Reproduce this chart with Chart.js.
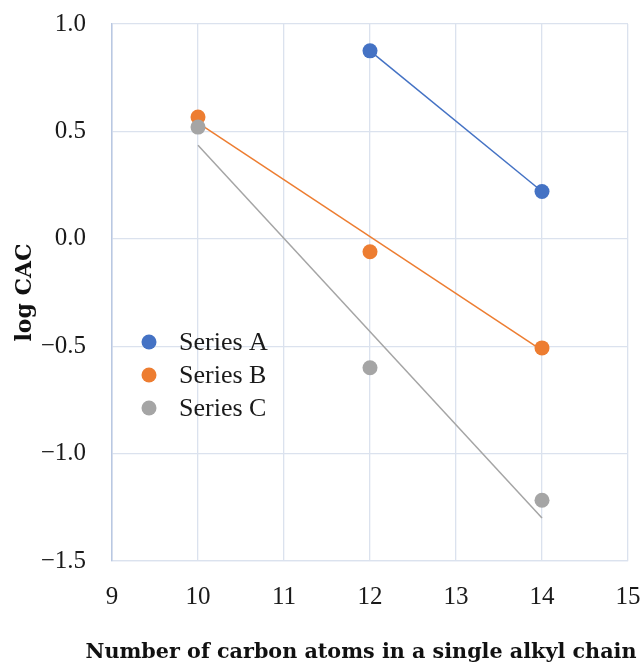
<!DOCTYPE html>
<html>
<head>
<meta charset="utf-8">
<script src="https://cdn.jsdelivr.net/npm/chart.js@4/dist/chart.umd.min.js"></script>
<style>
  html, body { margin: 0; padding: 0; background: #fff; }
  #wrap { width: 642px; height: 668px; }
</style>
</head>
<body>
<div id="wrap"><canvas id="chart" width="642" height="668"></canvas></div>
<script>
// carbon atoms per chain
var carbonA = [12, 14];
var carbonB = [10, 12, 14];
var carbonC = [10, 12, 14];

// log CAC values
var logCacA = [0.875, 0.22];
var logCacB = [0.567, -0.06, -0.508];
var logCacC = [0.52, -0.60, -1.217];

// linear trendline ends
var trendX = [10, 14];
var trendXA = [12, 14];
var trendA = [0.875, 0.22];
var trendB = [0.54, -0.52];
var trendC = [0.436, -1.30];

var seriesNames = ["Series A", "Series B", "Series C"];
var seriesColors = ["#4472C4", "#ED7D31", "#A5A5A5"];
var xTitle = "Number of carbon atoms in a single alkyl chain";

var serif = "'Liberation Serif', 'Times New Roman', serif";
var boldSerif = "'DejaVu Serif', serif";

function toPoints(xs, ys) {
  return xs.map(function (x, i) { return { x: x, y: ys[i] }; });
}

function pointSet(i, xs, ys, order) {
  return {
    label: seriesNames[i],
    data: toPoints(xs, ys),
    backgroundColor: seriesColors[i],
    borderColor: seriesColors[i],
    pointRadius: 7.5,
    pointHoverRadius: 7.5,
    borderWidth: 0,
    showLine: false,
    order: order
  };
}

function trendSet(i, xs, ys) {
  return {
    label: seriesNames[i] + " trend",
    data: toPoints(xs, ys),
    borderColor: seriesColors[i],
    borderWidth: 1.5,
    pointRadius: 0,
    showLine: true,
    fill: false,
    order: 10
  };
}

// legend inside the plot + x title (sits a bit left of centre in the original)
var extras = {
  id: "extras",
  afterDraw: function (chart) {
    var ctx = chart.ctx;
    ctx.save();
    ctx.font = "26px " + serif;
    ctx.textBaseline = "middle";
    for (var i = 0; i < seriesNames.length; i++) {
      var y = 342 + i * 33;
      ctx.beginPath();
      ctx.arc(149, y, 7.5, 0, Math.PI * 2);
      ctx.fillStyle = seriesColors[i];
      ctx.fill();
      ctx.fillStyle = "#1a1a1a";
      ctx.fillText(seriesNames[i], 179, y + 1);
    }
    ctx.font = "bold 20.7px " + boldSerif;
    ctx.textAlign = "center";
    ctx.fillStyle = "#111";
    ctx.fillText(xTitle, 361, 653);
    ctx.restore();
  }
};

function fmtY(v) {
  return Number(v).toFixed(1).replace("-", "\u2212");
}

new Chart(document.getElementById("chart"), {
  type: "scatter",
  data: {
    datasets: [
      pointSet(0, carbonA, logCacA, 0),
      pointSet(1, carbonB, logCacB, 2),
      pointSet(2, carbonC, logCacC, 1),
      trendSet(0, trendXA, trendA),
      trendSet(1, trendX, trendB),
      trendSet(2, trendX, trendC)
    ]
  },
  options: {
    responsive: false,
    animation: false,
    layout: { padding: { top: 24, right: 14, left: 0, bottom: 0 } },
    plugins: {
      legend: { display: false },
      tooltip: { enabled: false }
    },
    scales: {
      x: {
        type: "linear",
        min: 9,
        max: 15,
        ticks: {
          stepSize: 1,
          padding: 21,
          color: "#1a1a1a",
          font: { family: serif, size: 25 }
        },
        grid: { color: "#dbe2ee", lineWidth: 1.3, drawTicks: false },
        border: { color: "#dbe2ee", width: 1.3 },
        afterFit: function (s) {
          s.height = 107;
          s.paddingLeft = 0;
          s.paddingRight = 0;
        }
      },
      y: {
        type: "linear",
        min: -1.5,
        max: 1.0,
        ticks: {
          stepSize: 0.5,
          padding: 26,
          color: "#1a1a1a",
          font: { family: serif, size: 25 },
          callback: fmtY
        },
        grid: { color: "#dbe2ee", lineWidth: 1.3, drawTicks: false },
        border: { color: "#b9c8e2", width: 1.5 },
        title: {
          display: true,
          text: "log CAC",
          color: "#111",
          font: { family: boldSerif, size: 22, weight: "bold" },
          padding: { top: 12, bottom: 0 }
        },
        afterFit: function (s) {
          s.width = 112;
          s.paddingTop = 0;
          s.paddingBottom = 0;
        }
      }
    }
  },
  plugins: [extras]
});
</script>
</body>
</html>
